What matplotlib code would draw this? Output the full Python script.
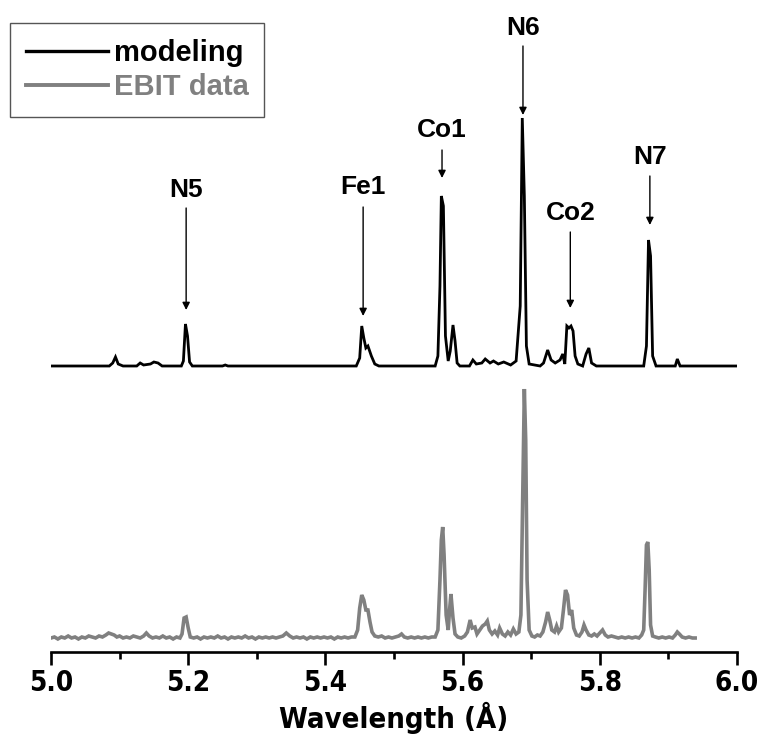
import matplotlib
matplotlib.use("Agg")
import matplotlib.pyplot as plt
from matplotlib.lines import Line2D
from matplotlib import font_manager as fm

# ---------------- data ----------------
model_wl = [5.000, 5.085, 5.090, 5.094, 5.098, 5.105, 5.125, 5.130, 5.135, 5.145,
            5.150, 5.156, 5.162, 5.190, 5.193, 5.196, 5.199, 5.202, 5.206, 5.250,
            5.254, 5.258, 5.445, 5.450, 5.453, 5.456, 5.459, 5.462, 5.467, 5.472,
            5.478, 5.560, 5.564, 5.567, 5.569, 5.572, 5.575, 5.579, 5.582, 5.586,
            5.589, 5.592, 5.596, 5.610, 5.615, 5.620, 5.628, 5.633, 5.640, 5.645,
            5.652, 5.660, 5.670, 5.678, 5.684, 5.687, 5.690, 5.693, 5.697, 5.705,
            5.713, 5.718, 5.724, 5.729, 5.735, 5.742, 5.746, 5.749, 5.752, 5.755,
            5.758, 5.761, 5.764, 5.768, 5.775, 5.780, 5.784, 5.788, 5.795, 5.864,
            5.868, 5.871, 5.874, 5.877, 5.882, 5.910, 5.913, 5.917, 6.000]
model_int = [0, 0, 3, 9, 2, 0, 0, 3, 1, 2,
             4, 3, 0, 0, 5, 42, 30, 4, 0, 0,
             1, 0, 0, 8, 40, 28, 18, 20, 10, 2,
             0, 0, 10, 80, 170, 160, 30, 5, 15, 41,
             25, 3, 0, 0, 6, 2, 3, 7, 3, 5,
             2, 4, 1, 5, 60, 248, 170, 20, 2, 1,
             0, 3, 16, 6, 3, 6, 12, 2, 40, 38,
             40, 35, 10, 2, 0, 12, 18, 3, 0, 0,
             20, 126, 110, 10, 0, 0, 7, 0, 0]

ebit_wl = [5.000, 5.005, 5.010, 5.015, 5.020, 5.025, 5.030, 5.035, 5.040, 5.045,
           5.050, 5.055, 5.060, 5.065, 5.070, 5.075, 5.080, 5.084, 5.088, 5.092,
           5.096, 5.100, 5.105, 5.110, 5.115, 5.120, 5.125, 5.130, 5.135, 5.139,
           5.143, 5.148, 5.153, 5.158, 5.163, 5.168, 5.173, 5.178, 5.183, 5.188,
           5.191, 5.194, 5.197, 5.200, 5.203, 5.208, 5.213, 5.218, 5.223, 5.228,
           5.233, 5.238, 5.243, 5.248, 5.253, 5.258, 5.263, 5.268, 5.273, 5.278,
           5.283, 5.288, 5.293, 5.298, 5.303, 5.308, 5.313, 5.318, 5.323, 5.328,
           5.333, 5.338, 5.343, 5.348, 5.353, 5.358, 5.363, 5.368, 5.373, 5.378,
           5.383, 5.388, 5.393, 5.398, 5.403, 5.408, 5.413, 5.418, 5.423, 5.428,
           5.433, 5.438, 5.443, 5.447, 5.450, 5.453, 5.456, 5.459, 5.462, 5.465,
           5.468, 5.472, 5.477, 5.482, 5.487, 5.492, 5.497, 5.502, 5.507, 5.511,
           5.515, 5.520, 5.525, 5.530, 5.535, 5.540, 5.545, 5.550, 5.555, 5.560,
           5.564, 5.567, 5.569, 5.571, 5.573, 5.576, 5.579, 5.581, 5.583, 5.586,
           5.589, 5.593, 5.598, 5.603, 5.607, 5.611, 5.614, 5.618, 5.621, 5.625,
           5.629, 5.633, 5.636, 5.639, 5.643, 5.647, 5.651, 5.654, 5.658, 5.662,
           5.666, 5.670, 5.674, 5.678, 5.682, 5.685, 5.688, 5.690, 5.692, 5.694,
           5.697, 5.701, 5.705, 5.709, 5.713, 5.717, 5.721, 5.724, 5.727, 5.730,
           5.734, 5.737, 5.740, 5.744, 5.747, 5.750, 5.753, 5.756, 5.759, 5.762,
           5.766, 5.770, 5.774, 5.777, 5.780, 5.784, 5.788, 5.792, 5.796, 5.800,
           5.804, 5.808, 5.812, 5.817, 5.822, 5.827, 5.832, 5.837, 5.842, 5.847,
           5.852, 5.857, 5.861, 5.864, 5.866, 5.868, 5.870, 5.872, 5.874, 5.877,
           5.881, 5.886, 5.891, 5.896, 5.901, 5.906, 5.910, 5.913, 5.916, 5.920,
           5.925, 5.930, 5.935, 5.939]
ebit_int = [2, 3, 1, 3, 2, 4, 2, 3, 1, 3,
            2, 4, 3, 2, 4, 3, 5, 7, 6, 5,
            3, 4, 2, 3, 2, 4, 3, 2, 4, 7,
            4, 2, 3, 2, 4, 2, 3, 1, 3, 2,
            6, 22, 23, 12, 3, 2, 3, 1, 3, 2,
            3, 2, 4, 2, 3, 1, 3, 2, 3, 2,
            4, 2, 3, 1, 3, 2, 3, 2, 3, 2,
            3, 4, 7, 4, 2, 3, 2, 3, 1, 3,
            2, 3, 2, 3, 2, 3, 1, 3, 2, 3,
            2, 3, 3, 10, 32, 45, 40, 30, 30, 18,
            8, 4, 3, 4, 2, 3, 2, 3, 4, 6,
            3, 2, 3, 2, 3, 2, 3, 2, 3, 3,
            10, 60, 100, 113, 85, 25, 10, 30, 46, 22,
            6, 3, 2, 4, 8, 20, 12, 13, 6, 10,
            14, 16, 19, 10, 6, 9, 5, 12, 6, 4,
            8, 5, 11, 6, 8, 25, 160, 251, 200, 60,
            10, 4, 3, 5, 4, 8, 18, 28, 20, 10,
            8, 14, 8, 12, 30, 50, 45, 25, 30, 12,
            5, 4, 8, 15, 10, 5, 4, 6, 4, 7,
            10, 5, 3, 4, 3, 2, 3, 2, 3, 2,
            3, 2, 5, 10, 50, 95, 98, 70, 15, 4,
            3, 2, 3, 2, 3, 2, 5, 8, 6, 3,
            2, 3, 2, 2]

peak_names = ["N5", "Fe1", "Co1", "N6", "Co2", "N7"]
peak_wl = [5.197, 5.455, 5.570, 5.688, 5.757, 5.873]

x_ticks = [5.0, 5.2, 5.4, 5.6, 5.8, 6.0]
x_tick_labels = ["5.0", "5.2", "5.4", "5.6", "5.8", "6.0"]
series_names = ["modeling", "EBIT data"]

# ---------------- layout ----------------
W, H = 760, 747
fig = plt.figure(figsize=(W / 100, H / 100), dpi=100)
ax_bottom_px = 652
ax = fig.add_axes([51 / W, (H - ax_bottom_px) / H, 686 / W, ax_bottom_px / H])
ax.set_xlim(5.0, 6.0)
ax.set_ylim(0, ax_bottom_px)   # y in "pixels above the axis line"

MODEL_OFFSET = ax_bottom_px - 366
EBIT_OFFSET = ax_bottom_px - 640
GRAY = "#808080"

ax.plot(model_wl, [v + MODEL_OFFSET for v in model_int], color="black", lw=2.0,
        solid_joinstyle="miter")
ax.plot(ebit_wl, [v + EBIT_OFFSET for v in ebit_int], color=GRAY, lw=2.6,
        solid_joinstyle="miter")

LABEL_FONT = ["Liberation Sans", "DejaVu Sans"]
# peak labels with arrows (text y, arrow start, arrow tip in image pixels)
label_px = {"N5": (190, 208, 310), "Fe1": (187, 207, 316), "Co1": (130, 150, 178),
            "N6": (28, 46, 115), "Co2": (213, 232, 308), "N7": (157, 176, 225)}
for name, wl in zip(peak_names, peak_wl):
    ty, a0, a1 = label_px[name]
    ax.text(wl, ax_bottom_px - ty, name, ha="center", va="center",
            fontsize=19, fontweight="heavy", family=LABEL_FONT)
    ax.annotate("", xy=(wl, ax_bottom_px - a1), xytext=(wl, ax_bottom_px - a0),
                arrowprops=dict(arrowstyle="-|>", color="black", lw=1.0,
                                mutation_scale=11, shrinkA=0, shrinkB=0))

# axes styling
for s in ["left", "right", "top"]:
    ax.spines[s].set_visible(False)
ax.spines["bottom"].set_linewidth(1.9)
ax.set_yticks([])
ax.set_xticks(x_ticks)
ax.set_xticklabels(x_tick_labels)
ax.set_xticks([5.1, 5.3, 5.5, 5.7, 5.9], minor=True)
ax.tick_params(axis="x", which="major", direction="out", length=9, width=1.9, pad=3)
ax.tick_params(axis="x", which="minor", direction="out", length=5, width=1.9)
tick_fp = fm.FontProperties(family="DejaVu Sans", weight="bold", stretch="condensed", size=20)
for lab in ax.get_xticklabels():
    lab.set_fontproperties(tick_fp)
xl_fp = fm.FontProperties(family="DejaVu Sans", weight="bold", stretch="condensed", size=21)
ax.set_xlabel("Wavelength (Å)", fontproperties=xl_fp, labelpad=4)

# legend
handles = [Line2D([], [], color="black", lw=2.4), Line2D([], [], color=GRAY, lw=2.8)]
leg = fig.legend(handles, series_names, loc="upper left",
                 bbox_to_anchor=(10 / W, 1 - 23 / H), bbox_transform=fig.transFigure,
                 frameon=True, fancybox=False, edgecolor="#555555", framealpha=1,
                 handlelength=2.8, handletextpad=0.2, labelspacing=0.2,
                 borderpad=0.55, borderaxespad=0,
                 prop=dict(family=LABEL_FONT, weight="bold", size=21))
leg.get_frame().set_linewidth(1.0)
leg.get_texts()[1].set_color(GRAY)

fig.savefig("out.png", dpi=100)
